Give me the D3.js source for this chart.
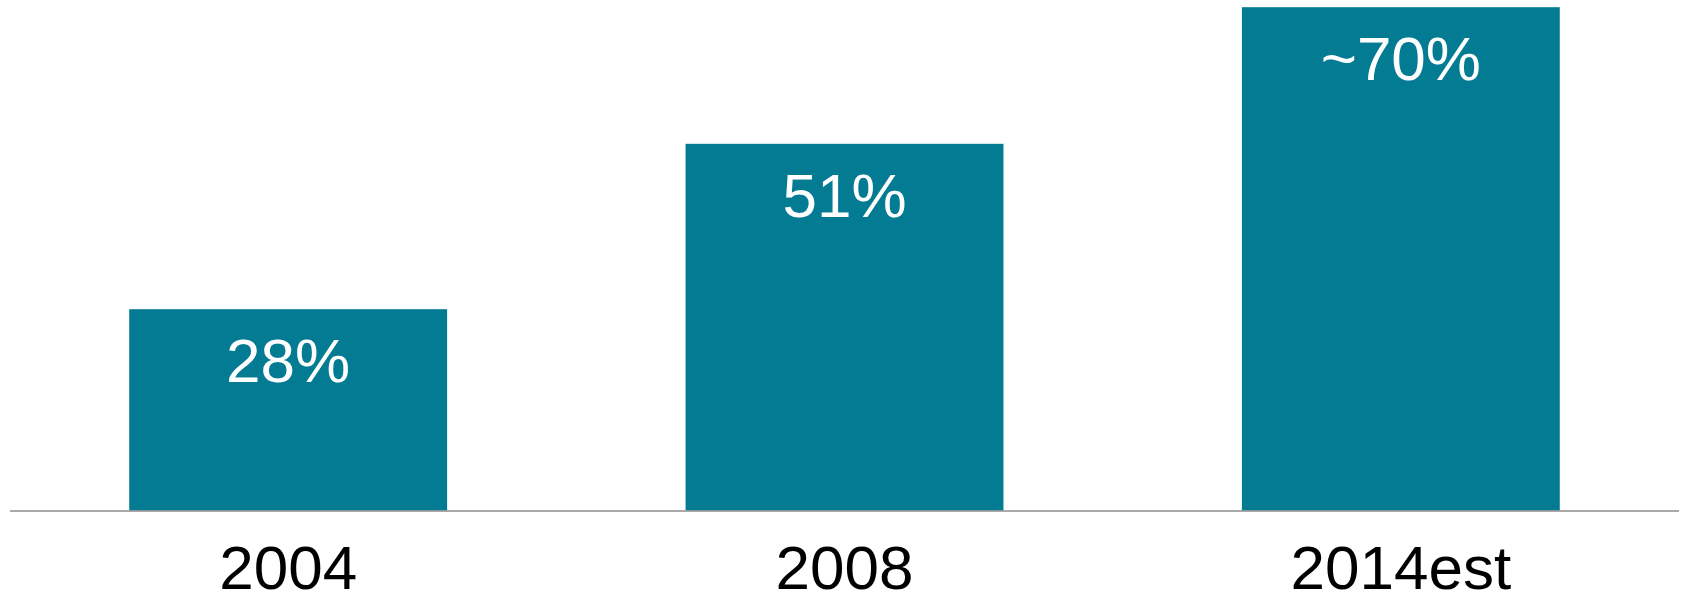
<!DOCTYPE html>
<html>
<head>
<meta charset="utf-8">
<script src="https://cdn.jsdelivr.net/npm/d3@7"></script>
<style>
  html, body { margin: 0; padding: 0; background: #fff; }
  svg { display: block; font-family: "Liberation Sans", Arial, sans-serif; }
</style>
</head>
<body>
<svg id="chart" width="1681" height="594"></svg>
<script>
// Share by year
const categories = ["2004", "2008", "2014est"];
const values = [28, 51, 70];
const valueLabels = ["28%", "51%", "~70%"];

const W = 1681, H = 594;
const svg = d3.select("#chart");

const x = d3.scaleBand()
  .domain(categories)
  .range([10, 1679])
  .paddingInner(0.4286)
  .paddingOuter(0.2143);

const baseY = 510.5;
const y = d3.scaleLinear()
  .domain([0, 100])
  .range([baseY, baseY - 719]);

// Bars
svg.append("g").selectAll("rect")
  .data(values)
  .join("rect")
  .attr("x", (d, i) => x(categories[i]))
  .attr("y", d => y(d))
  .attr("width", x.bandwidth())
  .attr("height", d => y(0) - y(d))
  .attr("fill", "#037b93");

// Value labels inside the bars
svg.append("g").selectAll("text")
  .data(values)
  .join("text")
  .attr("x", (d, i) => x(categories[i]) + x.bandwidth() / 2)
  .attr("y", d => y(d) + 73)
  .attr("text-anchor", "middle")
  .attr("fill", "#fff")
  .attr("font-size", 62)
  .text((d, i) => valueLabels[i]);

// Category axis
const axis = svg.append("g")
  .attr("transform", `translate(0,${baseY})`)
  .call(d3.axisBottom(x).tickSize(0).tickPadding(0));
axis.select(".domain")
  .attr("d", `M10,0.5H1679`)
  .attr("stroke", "#8c8c8c")
  .attr("stroke-width", 1.6);
axis.selectAll(".tick text")
  .attr("y", 78)
  .attr("dy", 0)
  .attr("fill", "#000")
  .attr("font-size", 62)
  .attr("font-family", "Liberation Sans, Arial, sans-serif");
</script>
</body>
</html>
